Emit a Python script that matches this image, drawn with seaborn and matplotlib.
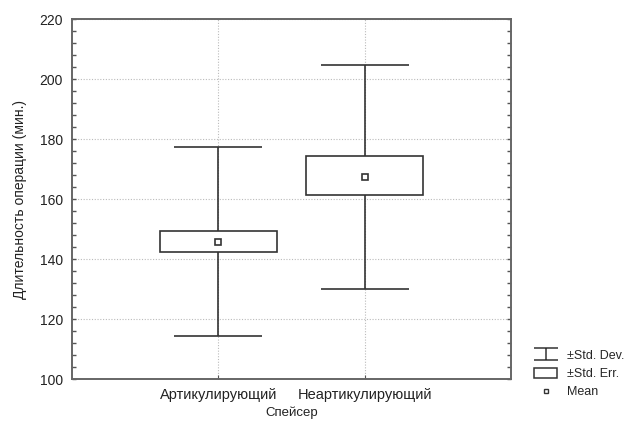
import pandas as pd
import seaborn as sns
import matplotlib.pyplot as plt
from matplotlib.lines import Line2D
from matplotlib.patches import Patch
from matplotlib.path import Path
import matplotlib.ticker as ticker

# summary statistics
categories = ["Артикулирующий", "Неартикулирующий"]
means = [145.8, 167.5]
se_low = [142.3, 161.3]
se_high = [149.4, 174.2]
sd_low = [114.3, 130.1]
sd_high = [177.3, 204.8]

df = pd.DataFrame({"Спейсер": categories, "mean": means,
                   "se_lo": se_low, "se_hi": se_high,
                   "sd_lo": sd_low, "sd_hi": sd_high})

sns.set_style("white")
plt.rcParams["font.family"] = ["Liberation Sans", "DejaVu Sans"]

fig = plt.figure(figsize=(6.29, 4.23), dpi=100)
ax = fig.add_axes([0.1145, 0.104, 0.698, 0.851])

line_c = "#333333"

# means through seaborn's categorical axis
sns.pointplot(data=df, x="Спейсер", y="mean", linestyle="none", marker="s",
              markersize=4.5, markerfacecolor="white", markeredgecolor=line_c,
              markeredgewidth=1.2, color=line_c, zorder=5, ax=ax)

pos = list(range(len(df)))

# ±Std. Dev. whiskers
ax.vlines(pos, df["sd_lo"], df["sd_hi"], color=line_c, lw=1.2, zorder=2)
ax.hlines(df["sd_lo"], [p - 0.3 for p in pos], [p + 0.3 for p in pos], color=line_c, lw=1.2, zorder=2)
ax.hlines(df["sd_hi"], [p - 0.3 for p in pos], [p + 0.3 for p in pos], color=line_c, lw=1.2, zorder=2)

# ±Std. Err. boxes
ax.bar(pos, df["se_hi"] - df["se_lo"], bottom=df["se_lo"], width=0.8,
       facecolor="white", edgecolor=line_c, linewidth=1.2, zorder=3)

ax.set_xlim(-1, 2)
ax.set_ylim(100, 220)
ax.yaxis.set_major_locator(ticker.MultipleLocator(20))
ax.yaxis.set_minor_locator(ticker.MultipleLocator(4))
ax.tick_params(axis="y", which="both", direction="in", left=True, right=True,
               length=3, width=1, color="#555555", labelsize=10, labelcolor="#222222", pad=6.5)
ax.tick_params(axis="x", direction="in", bottom=True, length=3, color="#555555",
               labelsize=10.5, labelcolor="#222222", pad=6.5)
ax.grid(True, which="major", color="#bbbbbb", linestyle=(0, (1, 1.5)), lw=0.8, zorder=0)
ax.set_axisbelow(True)
for sp in ax.spines.values():
    sp.set_color("#666666")
    sp.set_linewidth(1.4)

ax.set_xlabel("Спейсер", fontsize=9.5, color="#222222", labelpad=3.5)
ax.set_ylabel("Длительность операции (мин.)", fontsize=10, color="#222222", labelpad=9)

# legend in Statistica style
sd_marker = Path([(-1, 0.5), (1, 0.5), (0, 0.5), (0, -0.5), (-1, -0.5), (1, -0.5)],
                 [Path.MOVETO, Path.LINETO, Path.MOVETO, Path.LINETO, Path.MOVETO, Path.LINETO])
handles = [
    Line2D([], [], linestyle="none", marker=sd_marker, markersize=17,
           markeredgecolor=line_c, markerfacecolor="none", markeredgewidth=1.1),
    Patch(facecolor="white", edgecolor=line_c, linewidth=1.1),
    Line2D([], [], linestyle="none", marker="s", markersize=3.5,
           markerfacecolor="white", markeredgecolor=line_c, markeredgewidth=1),
]
fig.legend(handles, ["±Std. Dev.", "±Std. Err.", "Mean"], loc="upper left",
           bbox_to_anchor=(0.8385, 0.188), frameon=False, fontsize=9,
           handlelength=1.9, handleheight=0.9, labelspacing=0.45, handletextpad=0.75,
           borderpad=0)

fig.savefig("out.png", dpi=100)
